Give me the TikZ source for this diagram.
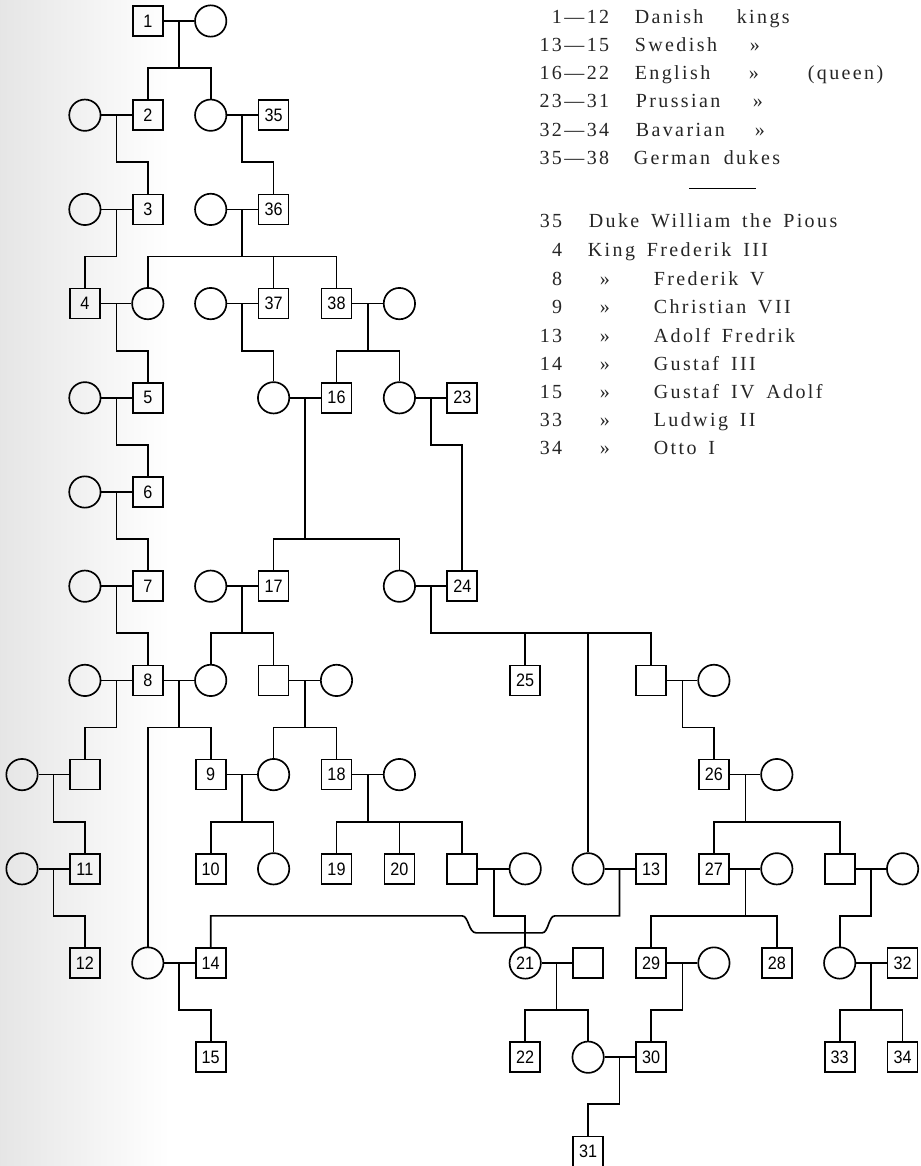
\documentclass[tikz,border=0pt]{standalone}
\usepackage{fontspec}
\newfontfamily\legfont[LetterSpace=12,WordSpace=1.6]{Liberation Serif}
\newfontfamily\numfont[FakeStretch=0.9]{Liberation Sans}
\newcommand\kids[3]{\foreach \c in {#3} {\draw (#1) -- ++(0,#2) -| (\c.north);}}
\begin{document}
\begin{tikzpicture}[x=0.75pt,y=-0.75pt,line width=1.25pt,
  sq/.style={draw,minimum size=22.5pt,inner sep=0pt,font=\numfont\fontsize{13.5}{13.5}\selectfont},
  ci/.style={draw,circle,minimum size=23.5pt,inner sep=0pt,font=\numfont\fontsize{13.5}{13.5}\selectfont},
  lg/.style={font=\legfont\fontsize{15}{15}\selectfont,inner sep=0pt,text=black!85}]
\useasboundingbox (0,0) rectangle (920,1166);
\fill[white] (0,0) rectangle (920,1166);
\shade[left color=black!10,right color=white] (0,0) rectangle (170,1166);
\begin{scope}[shift={(22,21)},x=47.175pt,y=-70.65pt]
% row 0
\node[sq] (s1) at (2,0) {1};
\node[ci] (w0) at (3,0) {};
% row 1
\node[ci] (w1a) at (1,1) {};
\node[sq] (s2) at (2,1) {2};
\node[ci] (d1) at (3,1) {};
\node[sq] (s35) at (4,1) {35};
% row 2
\node[ci] (w2a) at (1,2) {};
\node[sq] (s3) at (2,2) {3};
\node[ci] (w2b) at (3,2) {};
\node[sq] (s36) at (4,2) {36};
% row 3
\node[sq] (s4) at (1,3) {4};
\node[ci] (c3a) at (2,3) {};
\node[ci] (w3b) at (3,3) {};
\node[sq] (s37) at (4,3) {37};
\node[sq] (s38) at (5,3) {38};
\node[ci] (w3c) at (6,3) {};
% row 4
\node[ci] (w4a) at (1,4) {};
\node[sq] (s5) at (2,4) {5};
\node[ci] (c4b) at (4,4) {};
\node[sq] (s16) at (5,4) {16};
\node[ci] (c4c) at (6,4) {};
\node[sq] (s23) at (7,4) {23};
% row 5
\node[ci] (w5a) at (1,5) {};
\node[sq] (s6) at (2,5) {6};
% row 6
\node[ci] (w6a) at (1,6) {};
\node[sq] (s7) at (2,6) {7};
\node[ci] (w6b) at (3,6) {};
\node[sq] (s17) at (4,6) {17};
\node[ci] (c6c) at (6,6) {};
\node[sq] (s24) at (7,6) {24};
% row 7
\node[ci] (w7a) at (1,7) {};
\node[sq] (s8) at (2,7) {8};
\node[ci] (c7a) at (3,7) {};
\node[sq] (u7b) at (4,7) {};
\node[ci] (w7b) at (5,7) {};
\node[sq] (s25) at (8,7) {25};
\node[sq] (u7c) at (10,7) {};
\node[ci] (w7c) at (11,7) {};
% row 8
\node[ci] (w8a) at (0,8) {};
\node[sq] (u8a) at (1,8) {};
\node[sq] (s9) at (3,8) {9};
\node[ci] (c8b) at (4,8) {};
\node[sq] (s18) at (5,8) {18};
\node[ci] (w8c) at (6,8) {};
\node[sq] (s26) at (11,8) {26};
\node[ci] (w8d) at (12,8) {};
% row 9
\node[ci] (w9a) at (0,9) {};
\node[sq] (s11) at (1,9) {11};
\node[sq] (s10) at (3,9) {10};
\node[ci] (c9b) at (4,9) {};
\node[sq] (s19) at (5,9) {19};
\node[sq] (s20) at (6,9) {20};
\node[sq] (u9c) at (7,9) {};
\node[ci] (w9c) at (8,9) {};
\node[ci] (c9d) at (9,9) {};
\node[sq] (s13) at (10,9) {13};
\node[sq] (s27) at (11,9) {27};
\node[ci] (w9e) at (12,9) {};
\node[sq] (u9f) at (13,9) {};
\node[ci] (w9f) at (14,9) {};
% row 10
\node[sq] (s12) at (1,10) {12};
\node[ci] (c10a) at (2,10) {};
\node[sq] (s14) at (3,10) {14};
\node[ci] (c21) at (8,10) {21};
\node[sq] (u10b) at (9,10) {};
\node[sq] (s29) at (10,10) {29};
\node[ci] (w10c) at (11,10) {};
\node[sq] (s28) at (12,10) {28};
\node[ci] (c10d) at (13,10) {};
\node[sq] (s32) at (14,10) {32};
% row 11
\node[sq] (s15) at (3,11) {15};
\node[sq] (s22) at (8,11) {22};
\node[ci] (c11b) at (9,11) {};
\node[sq] (s30) at (10,11) {30};
\node[sq] (s33) at (13,11) {33};
\node[sq] (s34) at (14,11) {34};
% row 12
\node[sq] (s31) at (9,12) {31};

% marriages
\foreach \a/\b in {s1/w0,w1a/s2,d1/s35,w2a/s3,w2b/s36,s4/c3a,w3b/s37,s38/w3c,
  w4a/s5,c4b/s16,c4c/s23,w5a/s6,w6a/s7,w6b/s17,c6c/s24,w7a/s8,s8/c7a,u7b/w7b,
  u7c/w7c,w8a/u8a,s9/c8b,s18/w8c,s26/w8d,w9a/s11,u9c/w9c,c9d/s13,s27/w9e,
  u9f/w9f,c10a/s14,c21/u10b,s29/w10c,c10d/s32,c11b/s30}
  {\draw (\a) -- (\b);}

% couple points
\coordinate (m0) at (2.5,0);
\coordinate (m1a) at (1.5,1);
\coordinate (m1b) at (3.5,1);
\coordinate (m2a) at (1.5,2);
\coordinate (m2b) at (3.5,2);
\coordinate (m3a) at (1.5,3);
\coordinate (m3b) at (3.5,3);
\coordinate (m3c) at (5.5,3);
\coordinate (m4a) at (1.5,4);
\coordinate (m4b) at (4.5,4);
\coordinate (m4c) at (6.5,4);
\coordinate (m5a) at (1.5,5);
\coordinate (m6a) at (1.5,6);
\coordinate (m6b) at (3.5,6);
\coordinate (m6c) at (6.5,6);
\coordinate (m7a) at (1.5,7);
\coordinate (m7b) at (2.5,7);
\coordinate (m7c) at (4.5,7);
\coordinate (m7d) at (10.5,7);
\coordinate (m8a) at (0.5,8);
\coordinate (m8b) at (3.5,8);
\coordinate (m8c) at (5.5,8);
\coordinate (m8d) at (11.5,8);
\coordinate (m9a) at (0.5,9);
\coordinate (m9c) at (7.5,9);
\coordinate (m9d) at (9.5,9);
\coordinate (m9e) at (11.5,9);
\coordinate (m9f) at (13.5,9);
\coordinate (m10a) at (2.5,10);
\coordinate (m10b) at (8.5,10);
\coordinate (m10c) at (10.5,10);
\coordinate (m10d) at (13.5,10);
\coordinate (m11) at (9.5,11);
\coordinate (dipa) at (8.47,9.5);
\coordinate (dipb) at (7.0,9.5);

% descents
\kids{m0}{0.5}{s2,d1}
\kids{m1a}{0.5}{s3}
\kids{m1b}{0.5}{s36}
\kids{m2a}{0.5}{s4}
\kids{m2b}{0.5}{c3a,s37,s38}
\kids{m3a}{0.5}{s5}
\kids{m3b}{0.5}{c4b}
\kids{m3c}{0.5}{s16,c4c}
\kids{m4a}{0.5}{s6}
\kids{m4b}{1.5}{s17,c6c}
\kids{m4c}{0.5}{s24}
\kids{m5a}{0.5}{s7}
\kids{m6a}{0.5}{s8}
\kids{m6b}{0.5}{c7a,u7b}
\kids{m6c}{0.5}{s25,c9d,u7c}
\kids{m7a}{0.5}{u8a}
\kids{m7b}{0.5}{c10a,s9}
\kids{m7c}{0.5}{c8b,s18}
\kids{m7d}{0.5}{s26}
\kids{m8a}{0.5}{s11}
\kids{m8b}{0.5}{s10,c9b}
\kids{m8c}{0.5}{s19,s20,u9c}
\kids{m8d}{0.5}{s27,u9f}
\kids{m9a}{0.5}{s12}
\kids{m9c}{0.5}{c21}
\kids{m9e}{0.5}{s29,s28}
\kids{m9f}{0.5}{c10d}
\kids{m10a}{0.5}{s15}
\kids{m10b}{0.5}{s22,c11b}
\kids{m10c}{0.5}{s30}
\kids{m10d}{0.5}{s33,s34}
\kids{m11}{0.5}{s31}
\draw (m9d) -- (9.5,9.5) -- (dipa)
  .. controls (8.37,9.5) and (8.37,9.68) .. (8.27,9.68) -- (7.22,9.68)
  .. controls (7.1,9.68) and (7.1,9.5) .. (dipb) -| (s14.north);
\end{scope}

% legend
\node[lg,anchor=base east] (a1) at (610,24) {1—12};
\node[lg,anchor=base west] (a2) at (634,24) {Danish};
\node[lg,anchor=base west] (a3) at (736,24) {kings};
\node[lg,anchor=base east] (b1) at (610,52) {13—15};
\node[lg,anchor=base west] (b2) at (634,52) {Swedish};
\node[lg,anchor=base west] (b3) at (749,52) {»};
\node[lg,anchor=base east] (c1) at (610,80) {16—22};
\node[lg,anchor=base west] (c2) at (634,80) {English};
\node[lg,anchor=base west] (c3) at (748,80) {»};
\node[lg,anchor=base west] (c4) at (807,80) {(queen)};
\node[lg,anchor=base east] (d1) at (610,108) {23—31};
\node[lg,anchor=base west] (d2) at (635,108) {Prussian};
\node[lg,anchor=base west] (d3) at (752,108) {»};
\node[lg,anchor=base east] (e1) at (610,137) {32—34};
\node[lg,anchor=base west] (e2) at (635,137) {Bavarian};
\node[lg,anchor=base west] (e3) at (754,137) {»};
\node[lg,anchor=base east] (f1) at (610,165) {35—38};
\node[lg,anchor=base west] (f2) at (633,165) {German};
\node[lg,anchor=base west] (f3) at (723,165) {dukes};
\coordinate (r1) at (689,188);
\coordinate (r2) at (756,188);
\draw[line width=0.6pt] (r1) -- (r2);
\node[lg,anchor=base east] (g1) at (563,228) {35};
\node[lg,anchor=base west] (g2) at (588,228) {Duke William the Pious};
\node[lg,anchor=base east] (h1) at (563,257) {4};
\node[lg,anchor=base west] (h2) at (587,257) {King Frederik III};
\foreach \y/\n/\t [count=\i] in {285/8/Frederik V,313/9/Christian VII,342/13/Adolf Fredrik,
  370/14/Gustaf III,398/15/Gustaf IV Adolf,426/33/Ludwig II,454/34/Otto I}{
  \node[lg,anchor=base east] (k\i a) at (563,\y) {\n};
  \node[lg,anchor=base west] (k\i b) at (599,\y) {»};
  \node[lg,anchor=base west] (k\i c) at (653,\y) {\t};
}
\end{tikzpicture}
\end{document}
